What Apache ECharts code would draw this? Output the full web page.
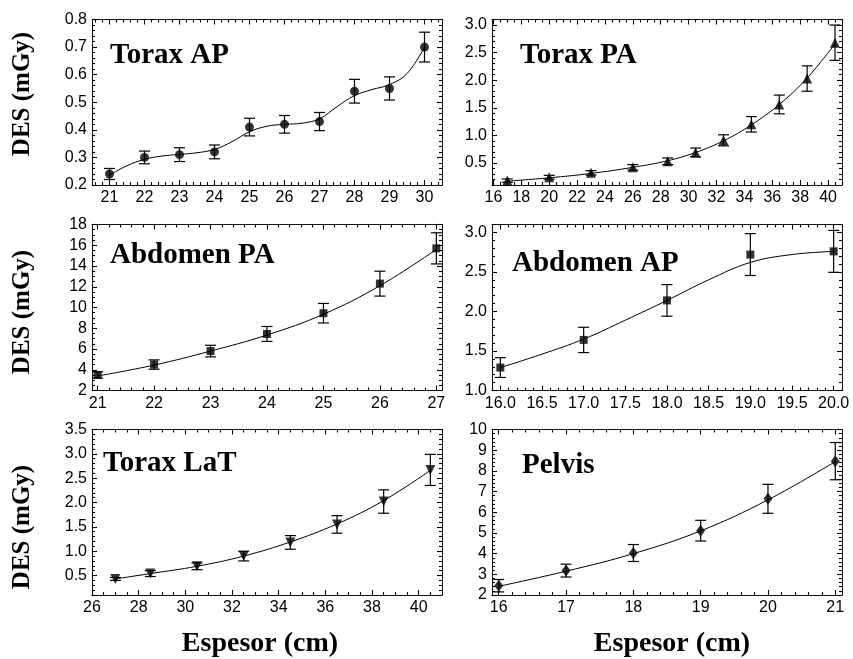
<!DOCTYPE html>
<html>
<head>
<meta charset="utf-8">
<script src="https://cdn.jsdelivr.net/npm/echarts@6/dist/echarts.min.js"></script>
<style>
  html, body { margin: 0; padding: 0; background: #fff; }
  #chart { width: 853px; height: 659px; }
</style>
</head>
<body>
<div id="chart"></div>
<script>
// ---- Torax AP ----
const toraxApX   = [21, 22, 23, 24, 25, 26, 27, 28, 29, 30];
const toraxApY   = [0.24, 0.30, 0.31, 0.32, 0.41, 0.42, 0.43, 0.54, 0.55, 0.70];
const toraxApErr = [0.02, 0.023, 0.025, 0.025, 0.032, 0.032, 0.033, 0.043, 0.042, 0.054];
const toraxApFitX = [21, 21.5, 22, 22.5, 23, 23.5, 24, 24.5, 25, 25.5, 26, 26.5, 27, 27.5, 28, 28.5, 29, 29.5, 30];
const toraxApFitY = [0.236, 0.270, 0.293, 0.305, 0.311, 0.317, 0.329, 0.357, 0.393, 0.413, 0.420, 0.424, 0.440, 0.484, 0.524, 0.546, 0.564, 0.604, 0.70];
const toraxApXTicks = [21, 22, 23, 24, 25, 26, 27, 28, 29, 30];
const toraxApYTicks = [0.2, 0.3, 0.4, 0.5, 0.6, 0.7, 0.8];

// ---- Torax PA ----
const toraxPaX   = [17, 20, 23, 26, 28.5, 30.5, 32.5, 34.5, 36.5, 38.5, 40.5];
const toraxPaY   = [0.18, 0.24, 0.32, 0.42, 0.53, 0.69, 0.91, 1.20, 1.56, 2.03, 2.68];
const toraxPaErr = [0.03, 0.035, 0.04, 0.05, 0.06, 0.08, 0.10, 0.14, 0.17, 0.23, 0.32];
const toraxPaFitX = [17, 20, 23, 26, 28.5, 30.5, 32.5, 34.5, 36.5, 38.5, 40.5];
const toraxPaFitY = [0.17, 0.23, 0.31, 0.42, 0.54, 0.69, 0.90, 1.19, 1.56, 2.04, 2.66];
const toraxPaXTicks = [16, 18, 20, 22, 24, 26, 28, 30, 32, 34, 36, 38, 40];
const toraxPaYTicks = [0.5, 1.0, 1.5, 2.0, 2.5, 3.0];

// ---- Abdomen PA ----
const abdPaX   = [21, 22, 23, 24, 25, 26, 27];
const abdPaY   = [3.5, 4.5, 5.8, 7.45, 9.45, 12.3, 15.7];
const abdPaErr = [0.3, 0.45, 0.56, 0.72, 0.94, 1.2, 1.5];
const abdPaFitX = [21, 22, 23, 24, 25, 26, 27];
const abdPaFitY = [3.4, 4.45, 5.8, 7.35, 9.35, 12.1, 15.6];
const abdPaXTicks = [21, 22, 23, 24, 25, 26, 27];
const abdPaYTicks = [2, 4, 6, 8, 10, 12, 14, 16, 18];

// ---- Abdomen AP ----
const abdApX   = [16, 17, 18, 19, 20];
const abdApY   = [1.29, 1.64, 2.14, 2.72, 2.76];
const abdApErr = [0.125, 0.16, 0.2, 0.265, 0.265];
const abdApFitX = [16, 16.5, 17, 17.5, 18, 18.5, 19, 19.5, 20];
const abdApFitY = [1.29, 1.46, 1.65, 1.89, 2.14, 2.40, 2.62, 2.72, 2.76];
const abdApXTicks = [16.0, 16.5, 17.0, 17.5, 18.0, 18.5, 19.0, 19.5, 20.0];
const abdApYTicks = [1.0, 1.5, 2.0, 2.5, 3.0];

// ---- Torax LaT ----
const toraxLatX   = [27, 28.5, 30.5, 32.5, 34.5, 36.5, 38.5, 40.5];
const toraxLatY   = [0.43, 0.54, 0.69, 0.90, 1.18, 1.55, 2.02, 2.67];
const toraxLatErr = [0.03, 0.06, 0.07, 0.10, 0.14, 0.18, 0.24, 0.32];
const toraxLatFitX = [27, 28.5, 30.5, 32.5, 34.5, 36.5, 38.5, 40.5];
const toraxLatFitY = [0.43, 0.54, 0.69, 0.90, 1.19, 1.56, 2.04, 2.66];
const toraxLatXTicks = [26, 28, 30, 32, 34, 36, 38, 40];
const toraxLatYTicks = [0.5, 1.0, 1.5, 2.0, 2.5, 3.0, 3.5];

// ---- Pelvis ----
const pelvisX   = [16, 17, 18, 19, 20, 21];
const pelvisY   = [2.45, 3.18, 4.03, 5.11, 6.65, 8.47];
const pelvisErr = [0.3, 0.31, 0.41, 0.5, 0.7, 0.9];
const pelvisFitX = [16, 17, 18, 19, 20, 21];
const pelvisFitY = [2.42, 3.15, 4.0, 5.1, 6.6, 8.45];
const pelvisXTicks = [16, 17, 18, 19, 20, 21];
const pelvisYTicks = [2, 3, 4, 5, 6, 7, 8, 9, 10];

const panelTitles = ['Torax AP', 'Torax PA', 'Abdomen PA', 'Abdomen AP', 'Torax LaT', 'Pelvis'];
const yTitle = 'DES (mGy)';
const xTitle = 'Espesor (cm)';

const SANS = "'Liberation Sans', Arial, sans-serif";
const SERIF = "'Liberation Serif', 'Times New Roman', serif";

// Panel layout, axis ranges and styling
const panels = [
  { grid: { left: 92, top: 19.5, width: 350, height: 165.5 },
    x: toraxApX, y: toraxApY, err: toraxApErr, fx: toraxApFitX, fy: toraxApFitY,
    xr: [20.5, 30.5], yr: [0.2, 0.8], xt: toraxApXTicks, yt: toraxApYTicks,
    xMinor: 0.2, yMinor: 0.02, xDec: 0, yDec: 1,
    symbol: 'circle', size: 9, rot: 0, title: { left: 110, top: 41 } },
  { grid: { left: 492, top: 19.5, width: 350, height: 165.5 },
    x: toraxPaX, y: toraxPaY, err: toraxPaErr, fx: toraxPaFitX, fy: toraxPaFitY,
    xr: [15.9, 41], yr: [0.1, 3.1], xt: toraxPaXTicks, yt: toraxPaYTicks,
    xMinor: 0.5, yMinor: 0.1, xDec: 0, yDec: 1,
    symbol: 'triangle', size: 10, rot: 0, title: { left: 520, top: 41 } },
  { grid: { left: 92, top: 224.5, width: 350, height: 166 },
    x: abdPaX, y: abdPaY, err: abdPaErr, fx: abdPaFitX, fy: abdPaFitY,
    xr: [20.9, 27.1], yr: [2, 18], xt: abdPaXTicks, yt: abdPaYTicks,
    xMinor: 0.2, yMinor: 0.5, xDec: 0, yDec: 0,
    symbol: 'rect', size: 8, rot: 0, title: { left: 110, top: 241 } },
  { grid: { left: 492, top: 224.5, width: 350, height: 166 },
    x: abdApX, y: abdApY, err: abdApErr, fx: abdApFitX, fy: abdApFitY,
    xr: [15.9, 20.1], yr: [1.0, 3.1], xt: abdApXTicks, yt: abdApYTicks,
    xMinor: 0.1, yMinor: 0.1, xDec: 1, yDec: 1,
    symbol: 'rect', size: 8, rot: 0, title: { left: 512, top: 249.5 } },
  { grid: { left: 92, top: 429.5, width: 350, height: 165.5 },
    x: toraxLatX, y: toraxLatY, err: toraxLatErr, fx: toraxLatFitX, fy: toraxLatFitY,
    xr: [26, 41], yr: [0.1, 3.5], xt: toraxLatXTicks, yt: toraxLatYTicks,
    xMinor: 0.5, yMinor: 0.1, xDec: 0, yDec: 1,
    symbol: 'triangle', size: 10, rot: 180, title: { left: 103, top: 449.5 } },
  { grid: { left: 492, top: 429.5, width: 350, height: 165.5 },
    x: pelvisX, y: pelvisY, err: pelvisErr, fx: pelvisFitX, fy: pelvisFitY,
    xr: [15.9, 21.1], yr: [2, 10], xt: pelvisXTicks, yt: pelvisYTicks,
    xMinor: 0.2, yMinor: 0.2, xDec: 0, yDec: 0,
    symbol: 'diamond', size: [9, 12], rot: 0, title: { left: 522, top: 451 } }
];

// Minor tick positions between the major ticks
function minorTicks(range, step, majors) {
  const out = [];
  const k0 = Math.ceil(range[0] / step - 1e-9);
  const k1 = Math.floor(range[1] / step + 1e-9);
  for (let k = k0; k <= k1; k++) {
    const v = Math.round(k * step * 1e6) / 1e6;
    if (!majors.some(m => Math.abs(m - v) < step / 10)) out.push(v);
  }
  return out;
}

const AXIS_COLOR = '#111';
const MAJOR_LEN = 5, MINOR_LEN = 3;

function makeAxis(dim, p, gi, position, ticks, len, withLine, withLabels, dec) {
  const range = dim === 'x' ? p.xr : p.yr;
  return {
    type: 'value', gridIndex: gi, position: position,
    min: range[0], max: range[1],
    axisLine: { show: withLine, onZero: false, lineStyle: { color: AXIS_COLOR, width: 1 } },
    axisTick: { show: true, inside: true, length: len, customValues: ticks,
                lineStyle: { color: '#000', width: 1.1 } },
    axisLabel: withLabels ? {
      show: true, customValues: ticks, margin: 5, color: '#000',
      fontFamily: SANS, fontSize: 16,
      showMinLabel: true, showMaxLabel: true,
      formatter: v => Number(v).toFixed(dec)
    } : { show: false },
    splitLine: { show: false },
    axisPointer: { show: false }
  };
}

const grids = [], xAxes = [], yAxes = [], series = [], titles = [];

panels.forEach((p, gi) => {
  grids.push(Object.assign({ containLabel: false }, p.grid));
  const xMin = minorTicks(p.xr, p.xMinor, p.xt);
  const yMin = minorTicks(p.yr, p.yMinor, p.yt);
  const xBase = xAxes.length, yBase = yAxes.length;
  xAxes.push(makeAxis('x', p, gi, 'bottom', p.xt, MAJOR_LEN, true, true, p.xDec));
  xAxes.push(makeAxis('x', p, gi, 'bottom', xMin, MINOR_LEN, false, false, 0));
  xAxes.push(makeAxis('x', p, gi, 'top', p.xt, MAJOR_LEN, true, false, 0));
  xAxes.push(makeAxis('x', p, gi, 'top', xMin, MINOR_LEN, false, false, 0));
  yAxes.push(makeAxis('y', p, gi, 'left', p.yt, MAJOR_LEN, true, true, p.yDec));
  yAxes.push(makeAxis('y', p, gi, 'left', yMin, MINOR_LEN, false, false, 0));
  yAxes.push(makeAxis('y', p, gi, 'right', p.yt, MAJOR_LEN, true, false, 0));
  yAxes.push(makeAxis('y', p, gi, 'right', yMin, MINOR_LEN, false, false, 0));

  // fitted curve
  series.push({
    type: 'line', xAxisIndex: xBase, yAxisIndex: yBase,
    data: p.fx.map((x, i) => [x, p.fy[i]]),
    smooth: 0.4, showSymbol: false, symbol: 'none',
    lineStyle: { color: '#000', width: 1 }, z: 2, silent: true
  });
  // error bars
  series.push({
    type: 'custom', xAxisIndex: xBase, yAxisIndex: yBase,
    data: p.x.map((x, i) => [x, p.y[i] - p.err[i], p.y[i] + p.err[i]]),
    encode: { x: 0, y: [1, 2] },
    renderItem: (params, api) => {
      const lo = api.coord([api.value(0), api.value(1)]);
      const hi = api.coord([api.value(0), api.value(2)]);
      const w = 5.5;
      const style = { stroke: '#000', lineWidth: 1.2 };
      return { type: 'group', children: [
        { type: 'line', shape: { x1: lo[0], y1: lo[1], x2: hi[0], y2: hi[1] }, style },
        { type: 'line', shape: { x1: lo[0] - w, y1: lo[1], x2: lo[0] + w, y2: lo[1] }, style },
        { type: 'line', shape: { x1: hi[0] - w, y1: hi[1], x2: hi[0] + w, y2: hi[1] }, style }
      ] };
    },
    z: 3, silent: true
  });
  // measured points
  series.push({
    type: 'scatter', xAxisIndex: xBase, yAxisIndex: yBase,
    data: p.x.map((x, i) => [x, p.y[i]]),
    symbol: p.symbol, symbolSize: p.size, symbolRotate: p.rot,
    itemStyle: { color: '#000' }, z: 4, silent: true
  });

  titles.push({
    text: panelTitles[gi], left: p.title.left, top: p.title.top, padding: 0,
    textStyle: { fontFamily: SERIF, fontWeight: 'bold', fontSize: 29, color: '#000' }
  });
});

const yTitleCenters = [94, 312, 527];
const xTitleCenters = [260, 672];
const graphics = [];
yTitleCenters.forEach(cy => graphics.push({
  type: 'text', x: 23, y: cy, rotation: Math.PI / 2,
  style: { text: yTitle, fontFamily: SERIF, fontWeight: 'bold', fontSize: 25,
           fill: '#000', align: 'center', verticalAlign: 'middle' }
}));
xTitleCenters.forEach(cx => graphics.push({
  type: 'text', x: cx, y: 644,
  style: { text: xTitle, fontFamily: SERIF, fontWeight: 'bold', fontSize: 28,
           fill: '#000', align: 'center', verticalAlign: 'middle' }
}));

const chart = echarts.init(document.getElementById('chart'), null, { renderer: 'canvas' });
chart.setOption({
  animation: false,
  backgroundColor: '#fff',
  title: titles,
  grid: grids,
  xAxis: xAxes,
  yAxis: yAxes,
  series: series,
  graphic: graphics
});
</script>
</body>
</html>
